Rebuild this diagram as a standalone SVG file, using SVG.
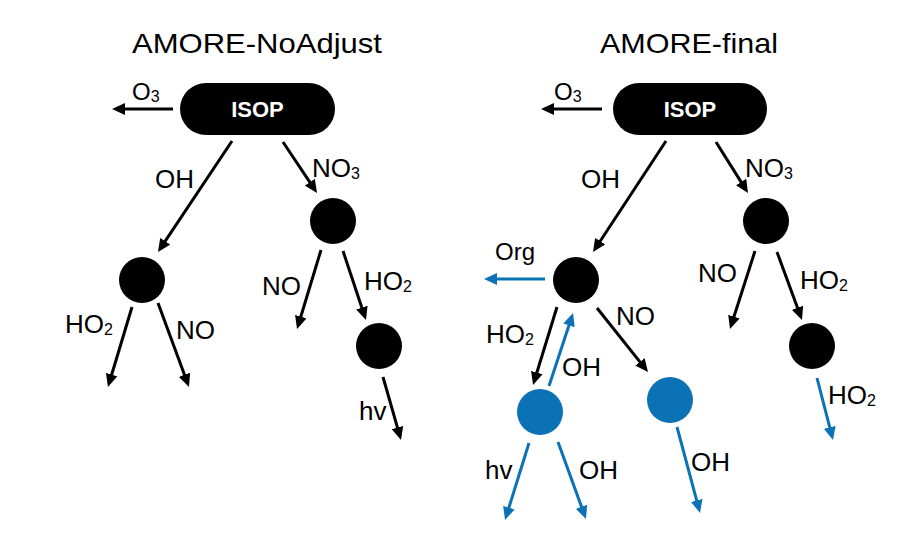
<svg xmlns="http://www.w3.org/2000/svg" width="919" height="557" viewBox="0 0 919 557">
<style>
text{font-family:"Liberation Sans",Arial,sans-serif;fill:#000}
.t{font-size:28px}
.l{font-size:26px}
.s{font-size:24px}
.sub{font-size:16px}
.w{fill:#fff;font-weight:bold;font-size:22px}
.k{stroke:#000;stroke-width:3;fill:none;marker-end:url(#ak)}
.b{stroke:#0b72b6;stroke-width:3;fill:none;marker-end:url(#ab)}
.nk{fill:#000}
.nb{fill:#0b72b6}
</style>
<defs>
<marker id="ak" markerUnits="userSpaceOnUse" markerWidth="13" markerHeight="12" refX="9" refY="6" orient="auto"><path d="M0,0L13,6L0,12z" fill="#000"/></marker>
<marker id="ab" markerUnits="userSpaceOnUse" markerWidth="13" markerHeight="12" refX="9" refY="6" orient="auto"><path d="M0,0L13,6L0,12z" fill="#0b72b6"/></marker>
</defs>
<rect width="919" height="557" fill="#fff"/>
<text class="t" x="132" y="53" textLength="250" lengthAdjust="spacingAndGlyphs">AMORE-NoAdjust</text>
<text class="t" x="600" y="53" textLength="178" lengthAdjust="spacingAndGlyphs">AMORE-final</text>
<g id="connectors">
<line class="k" x1="173" y1="109" x2="116" y2="109"/>
<line class="k" x1="232" y1="141" x2="160.2" y2="248.7"/>
<line class="k" x1="283" y1="142" x2="314.8" y2="189.7"/>
<line class="k" x1="132" y1="307" x2="109.1" y2="383.2"/>
<line class="k" x1="158" y1="303" x2="187.6" y2="383.2"/>
<line class="k" x1="321" y1="250" x2="298.2" y2="325.2"/>
<line class="k" x1="343" y1="251" x2="364.7" y2="316.2"/>
<line class="k" x1="383" y1="377" x2="399.9" y2="436.2"/>
<line class="k" x1="602" y1="109" x2="545" y2="109"/>
<line class="k" x1="666" y1="141" x2="595.2" y2="248.7"/>
<line class="k" x1="716" y1="142" x2="745.9" y2="189.6"/>
<line class="b" x1="545" y1="279" x2="488" y2="279"/>
<line class="k" x1="557" y1="307" x2="534.2" y2="381.2"/>
<line class="b" x1="549" y1="386" x2="571.8" y2="316.8"/>
<line class="k" x1="597" y1="308" x2="645.5" y2="368.9"/>
<line class="b" x1="529" y1="443" x2="506.2" y2="516.2"/>
<line class="b" x1="558" y1="442" x2="584.6" y2="515.2"/>
<line class="b" x1="677" y1="427" x2="699" y2="509.1"/>
<line class="k" x1="755" y1="251" x2="731.2" y2="325.2"/>
<line class="k" x1="777" y1="252" x2="800.6" y2="316.2"/>
<line class="b" x1="817" y1="378" x2="832" y2="436.1"/>
</g>
<g id="labels">
<text class="s" x="132" y="100">O<tspan class="sub" dy="2">3</tspan></text>
<text class="l" x="155" y="188">OH</text>
<text class="l" x="312" y="177">NO<tspan class="sub" dy="2">3</tspan></text>
<text class="l" x="65" y="333">HO<tspan class="sub" dy="2">2</tspan></text>
<text class="l" x="176" y="339">NO</text>
<text class="l" x="262" y="295">NO</text>
<text class="l" x="364" y="290">HO<tspan class="sub" dy="2">2</tspan></text>
<text class="l" x="359" y="420">hv</text>
<text class="s" x="554" y="100">O<tspan class="sub" dy="2">3</tspan></text>
<text class="l" x="581" y="188">OH</text>
<text class="l" x="745" y="177">NO<tspan class="sub" dy="2">3</tspan></text>
<text class="s" x="495" y="260">Org</text>
<text class="l" x="486" y="343">HO<tspan class="sub" dy="2">2</tspan></text>
<text class="l" x="562" y="376">OH</text>
<text class="l" x="616" y="325">NO</text>
<text class="l" x="485" y="479">hv</text>
<text class="l" x="579" y="479">OH</text>
<text class="l" x="691" y="471">OH</text>
<text class="l" x="698" y="282">NO</text>
<text class="l" x="800" y="289">HO<tspan class="sub" dy="2">2</tspan></text>
<text class="l" x="828" y="404">HO<tspan class="sub" dy="2">2</tspan></text>
</g>
<g id="isop-left"><rect x="180" y="83" width="155" height="52" rx="26" class="nk"/><text class="w" x="257.5" y="117" text-anchor="middle">ISOP</text></g>
<g id="l-oh"><circle cx="142" cy="280" r="23" class="nk"/></g>
<g id="l-no3"><circle cx="333" cy="221" r="23" class="nk"/></g>
<g id="l-ho2"><circle cx="379" cy="346" r="23" class="nk"/></g>
<g id="isop-right"><rect x="613" y="83" width="154" height="52" rx="26" class="nk"/><text class="w" x="690" y="117" text-anchor="middle">ISOP</text></g>
<g id="r-oh"><circle cx="576" cy="280" r="23" class="nk"/></g>
<g id="r-no3"><circle cx="766" cy="221" r="23" class="nk"/></g>
<g id="r-ho2"><circle cx="812" cy="346" r="23" class="nk"/></g>
<g id="r-blue1"><circle cx="540" cy="412" r="23" class="nb"/></g>
<g id="r-blue2"><circle cx="670" cy="400" r="23" class="nb"/></g>
</svg>
